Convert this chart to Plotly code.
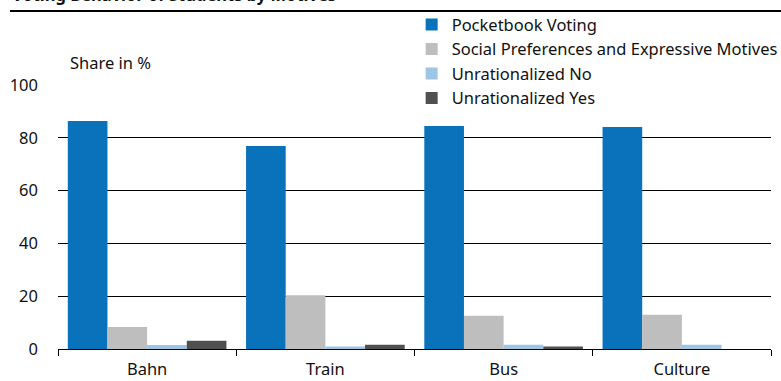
import plotly.graph_objects as go

# Survey categories and shares (in %) by voting motive
categories = ["Bahn", "Train", "Bus", "Culture"]
pocketbook = [86.4, 76.9, 84.5, 84.1]
social_expressive = [8.3, 20.4, 12.6, 13.0]
unrationalized_no = [1.5, 0.9, 1.6, 1.6]
unrationalized_yes = [3.1, 1.6, 0.9, 0.0]

series = [
    ("Pocketbook Voting", pocketbook, "#0A72BA"),
    ("Social Preferences and Expressive Motives", social_expressive, "#BEBEBE"),
    ("Unrationalized No", unrationalized_no, "#9DC6E6"),
    ("Unrationalized Yes", unrationalized_yes, "#505050"),
]

FONT = "Noto Sans"
SIZE = 16.5
INK = "#111111"

fig = go.Figure()
for name, values, color in series:
    fig.add_trace(go.Bar(
        x=categories, y=values, name=name,
        marker=dict(color=color, line=dict(width=0)),
    ))

fig.update_layout(
    width=781, height=381,
    margin=dict(l=58, r=10, t=85, b=32, autoexpand=False),
    paper_bgcolor="white", plot_bgcolor="white",
    font=dict(family=FONT, size=SIZE, color=INK),
    barmode="group", bargap=0.11, bargroupgap=0,
    showlegend=True,
    legend=dict(
        x=0.496, y=1.294, xanchor="left", yanchor="top",
        bgcolor="rgba(0,0,0,0)", borderwidth=0,
        font=dict(family=FONT, size=SIZE, color=INK),
        tracegroupgap=0, itemwidth=30,
    ),
)

fig.update_xaxes(
    type="category", showline=True, linecolor="black", linewidth=1,
    ticks="outside", tickson="boundaries", ticklen=6, tickcolor="black",
    showgrid=False, ticklabelstandoff=5,
)
fig.update_yaxes(
    range=[0, 100], dtick=20, showgrid=True, gridcolor="black", gridwidth=1,
    zeroline=False, showline=False, ticks="", ticklabelstandoff=19,
)

# The top gridline stops where the legend block begins
fig.add_shape(
    type="rect", xref="paper", yref="paper",
    x0=0.488, x1=1.0, y0=0.99, y1=1.01,
    fillcolor="white", line=dict(width=0), layer="between",
)

# Chart title (partly above the visible page) and the rule beneath it
fig.add_annotation(
    text="<b>Voting Behavior of Students by Motives</b>",
    xref="paper", yref="paper", x=-0.0673, y=1.292,
    xanchor="left", yanchor="bottom", showarrow=False,
    font=dict(family=FONT, size=SIZE, color=INK),
)
fig.add_shape(
    type="line", xref="paper", yref="paper",
    x0=-0.0673, x1=1.014, y0=1.280, y1=1.280,
    line=dict(color="black", width=2),
)

# Unit label
fig.add_annotation(
    text="Share in %", xref="paper", yref="paper",
    x=0.014, y=1.087, xanchor="left", yanchor="middle", showarrow=False,
    font=dict(family=FONT, size=SIZE, color=INK),
)

fig.write_html("out.html")
